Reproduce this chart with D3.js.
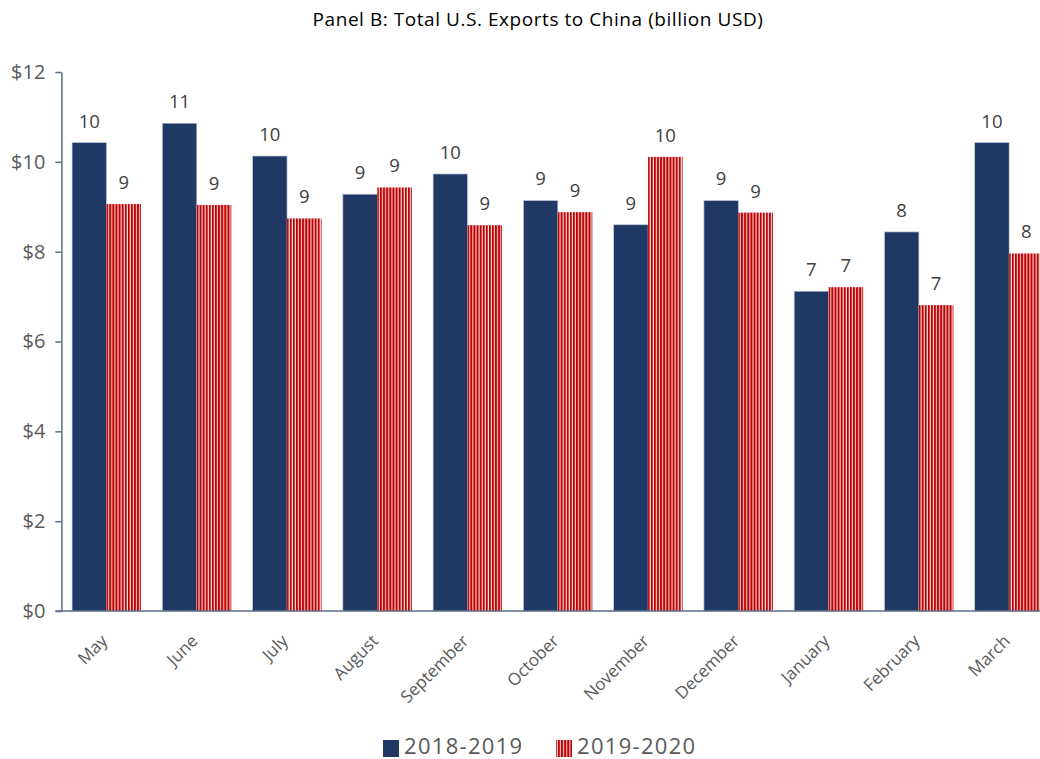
<!DOCTYPE html>
<html>
<head>
<meta charset="utf-8">
<script src="https://cdn.jsdelivr.net/npm/d3@7"></script>
<style>
  html, body { margin: 0; padding: 0; background: #fff; }
  svg { display: block; font-family: "Open Sans", Lato, sans-serif; }
</style>
</head>
<body>
<svg id="chart" width="1040" height="759"></svg>
<script>
// Monthly U.S. exports to China, billion USD
const months = ["May", "June", "July", "August", "September", "October",
                "November", "December", "January", "February", "March"];
const exports1819 = [10.43, 10.86, 10.13, 9.28, 9.73, 9.14, 8.60, 9.14, 7.12, 8.44, 10.43];
const exports1920 = [9.06, 9.04, 8.74, 9.43, 8.59, 8.88, 10.11, 8.87, 7.21, 6.81, 7.96];
const seriesNames = ["2018-2019", "2019-2020"];
const yTicks = [0, 2, 4, 6, 8, 10, 12];

const svg = d3.select("#chart");
const W = 1040, H = 759;
const plot = { left: 61.4, right: 1054.3, top: 72, bottom: 611 };

const navy = "#203864";
const red = "#c00000";
const FONT = "'Open Sans', Lato, sans-serif";

// vertical red stripes for the second series
const defs = svg.append("defs");
const pat = defs.append("pattern")
  .attr("id", "stripes")
  .attr("patternUnits", "userSpaceOnUse")
  .attr("width", 3.1).attr("height", 10);
pat.append("rect").attr("width", 3.1).attr("height", 10).attr("fill", "#f6e3e3");
pat.append("rect").attr("width", 2).attr("height", 10).attr("fill", red);

const x = d3.scaleBand()
  .domain(months)
  .range([plot.left, plot.right])
  .paddingInner(0.236)
  .paddingOuter(0.118);

const xs = d3.scaleBand()
  .domain(seriesNames)
  .range([0, x.bandwidth()])
  .padding(0);

const y = d3.scaleLinear().domain([0, 12]).range([plot.bottom, plot.top]);

const rows = months.map((m, i) => ({ month: m, values: [exports1819[i], exports1920[i]] }));

// title
svg.append("text")
  .attr("x", 538).attr("y", 26)
  .attr("text-anchor", "middle")
  .attr("font-size", 19)
  .attr("letter-spacing", 0.55)
  .attr("fill", "#000")
  .text("Panel B: Total U.S. Exports to China (billion USD)");

// bars
const groups = svg.append("g").selectAll("g")
  .data(rows).join("g")
  .attr("transform", d => `translate(${x(d.month)},0)`);

groups.selectAll("rect")
  .data(d => d.values.map((v, k) => ({ key: seriesNames[k], v, k })))
  .join("rect")
  .attr("x", d => xs(d.key))
  .attr("y", d => y(d.v))
  .attr("width", xs.bandwidth())
  .attr("height", d => y(0) - y(d.v))
  .attr("fill", d => d.k === 0 ? navy : "url(#stripes)")
  .attr("stroke", d => d.k === 0 ? "#c5ccd8" : "none")
  .attr("stroke-width", 0.7);

// value labels
groups.selectAll("text.val")
  .data(d => d.values.map((v, k) => ({ key: seriesNames[k], v, k })))
  .join("text")
  .attr("class", "val")
  .attr("x", d => xs(d.key) + xs.bandwidth() / 2)
  .attr("y", d => y(d.v) - 15)
  .attr("text-anchor", "middle")
  .attr("font-size", 18.5)
  .attr("fill", "#404040")
  .text(d => d3.format(".0f")(d.v));

// y axis
const yAxis = svg.append("g")
  .attr("transform", `translate(${plot.left},0)`)
  .call(d3.axisLeft(y).tickValues(yTicks).tickSize(6).tickSizeOuter(0)
    .tickFormat(d => "$" + d));
yAxis.select(".domain").attr("stroke", "#5b6b85").attr("stroke-width", 1.5);
yAxis.selectAll(".tick line").attr("stroke", "#5b6b85").attr("stroke-width", 1.5);
yAxis.selectAll(".tick text")
  .attr("x", -16)
  .attr("font-size", 20)
  .attr("font-family", FONT)
  .attr("fill", "#595959");

// x axis baseline and month labels
const xAxis = svg.append("g")
  .attr("transform", `translate(0,${plot.bottom})`)
  .call(d3.axisBottom(x).tickSize(0).tickSizeOuter(0));
xAxis.select(".domain")
  .attr("d", `M${plot.left - 6},0H${W}`)
  .attr("stroke", "#5b6b85").attr("stroke-width", 1.5);
xAxis.selectAll(".tick text")
  .attr("font-size", 17)
  .attr("font-family", FONT)
  .attr("fill", "#595959")
  .attr("text-anchor", "end")
  .attr("y", 0)
  .attr("dy", 0)
  .attr("transform", "translate(2,31) rotate(-45)");

// legend
const legend = svg.append("g").attr("transform", "translate(0,748)");
const legendItems = [
  { name: seriesNames[0], fill: navy, x: 383 },
  { name: seriesNames[1], fill: "url(#stripes)", x: 556 }
];
legendItems.forEach(it => {
  legend.append("rect")
    .attr("x", it.x).attr("y", -8)
    .attr("width", 16).attr("height", 17)
    .attr("fill", it.fill);
  legend.append("text")
    .attr("x", it.x + 21).attr("y", 5.5)
    .attr("font-size", 22)
    .attr("letter-spacing", 1.3)
    .attr("fill", "#595959")
    .text(it.name);
});
</script>
</body>
</html>
